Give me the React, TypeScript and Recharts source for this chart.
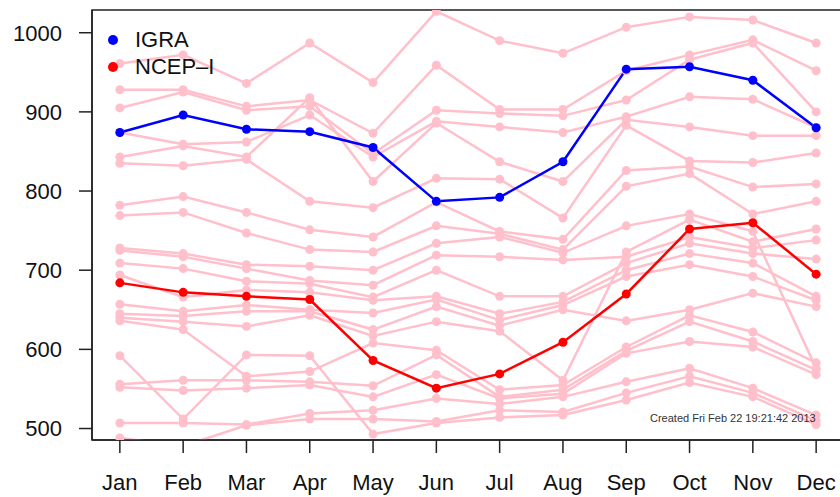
import React from 'react';
import { LineChart, Line, XAxis, YAxis, ReferenceArea } from 'recharts';

const MONTHS = ['Jan', 'Feb', 'Mar', 'Apr', 'May', 'Jun', 'Jul', 'Aug', 'Sep', 'Oct', 'Nov', 'Dec'];
const Y_TICKS = [500, 600, 700, 800, 900, 1000];

const IGRA = [874, 896, 878, 875, 855, 787, 792, 837, 954, 957, 940, 880];
const NCEP_I = [684, 672, 667, 663, 586, 551, 569, 609, 670, 752, 760, 695];

const ST00 = [961, 972, 936, 987, 937, 1027, 990, 974, 1007, 1020, 1016, 987];
const ST01 = [928, 928, 907, 915, 873, 959, 903, 903, 952, 972, 991, 952];
const ST02 = [905, 925, 902, 907, 847, 902, 898, 895, 915, 966, 987, 900];
const ST03 = [874, 859, 862, 896, 843, 888, 881, 874, 894, 919, 916, 880];
const ST04 = [843, 857, 843, 918, 812, 886, 837, 812, 890, 881, 870, 870];
const ST05 = [835, 832, 840, 787, 779, 816, 815, 766, 883, 838, 836, 848];
const ST06 = [782, 793, 773, 751, 742, 786, 749, 739, 826, 831, 805, 809];
const ST07 = [769, 773, 747, 726, 723, 756, 746, 726, 806, 822, 771, 787];
const ST08 = [728, 721, 707, 705, 700, 734, 742, 722, 756, 771, 749, 576];
const ST09 = [725, 717, 702, 687, 681, 719, 717, 713, 717, 742, 728, 738];
const ST10 = [709, 702, 686, 683, 666, 700, 667, 667, 709, 734, 721, 714];
const ST11 = [694, 666, 675, 672, 662, 667, 645, 660, 700, 721, 709, 667];
const ST12 = [657, 648, 656, 650, 646, 663, 637, 656, 692, 707, 692, 662];
const ST13 = [645, 642, 648, 648, 625, 654, 630, 650, 636, 650, 671, 654];
const ST14 = [640, 635, 629, 643, 617, 635, 623, 561, 723, 764, 736, 752];
const ST15 = [636, 625, 566, 572, 608, 599, 549, 555, 603, 643, 622, 583];
const ST16 = [592, 512, 593, 592, 493, 507, 514, 517, 536, 558, 540, 505];
const ST17 = [556, 561, 561, 559, 554, 593, 540, 549, 598, 635, 610, 574];
const ST18 = [552, 548, 551, 555, 540, 568, 538, 544, 595, 610, 603, 568];
const ST19 = [507, 507, 505, 519, 523, 538, 531, 540, 559, 576, 551, 517];
const ST20 = [488, 478, 504, 512, 512, 509, 523, 521, 545, 566, 545, 510];

const STATIONS = [ST00, ST01, ST02, ST03, ST04, ST05, ST06, ST07, ST08, ST09, ST10,
  ST11, ST12, ST13, ST14, ST15, ST16, ST17, ST18, ST19, ST20];

const CREATED_NOTE = 'Created Fri Feb 22 19:21:42 2013';

const X_DOMAIN: [number, number] = [0.56, 12.44];
const Y_DOMAIN: [number, number] = [485.5, 1028.7];

const data = MONTHS.map((name, i) => {
  const row: Record<string, number | string> = { m: i + 1, name, igra: IGRA[i], ncep: NCEP_I[i] };
  STATIONS.forEach((s, k) => {
    row['s' + k] = s[i];
  });
  return row;
});

const FONT = '"Liberation Sans", Arial, Helvetica, sans-serif';
const PINK = '#FFC0CB';

export default function App() {
  return (
    <div style={{ position: 'relative', width: 840, height: 497, overflow: 'hidden', background: '#fff' }}>
      <style>{`html,body{margin:0;padding:0;overflow:hidden;background:#fff}`}</style>
      <LineChart
        width={840}
        height={497}
        data={data}
        margin={{ top: 10, right: -4, bottom: 0, left: 0 }}
      >
        <XAxis
          dataKey="m"
          type="number"
          domain={X_DOMAIN}
          ticks={[1, 2, 3, 4, 5, 6, 7, 8, 9, 10, 11, 12]}
          tickFormatter={(v: number) => MONTHS[v - 1]}
          allowDataOverflow
          interval={0}
          height={57}
          tickSize={13}
          tickMargin={21}
          axisLine={{ stroke: '#222', strokeWidth: 1.5 }}
          tickLine={{ stroke: '#222', strokeWidth: 1.5 }}
          tick={{ fill: '#111', fontSize: 22, fontFamily: FONT }}
        />
        <YAxis
          type="number"
          domain={Y_DOMAIN}
          ticks={Y_TICKS}
          allowDataOverflow
          width={92}
          tickSize={13}
          tickMargin={17}
          axisLine={{ stroke: '#222', strokeWidth: 1.5 }}
          tickLine={{ stroke: '#222', strokeWidth: 1.5 }}
          tick={{ fill: '#111', fontSize: 22, fontFamily: FONT }}
        />
        <ReferenceArea
          x1={X_DOMAIN[0]}
          x2={X_DOMAIN[1]}
          y1={Y_DOMAIN[0]}
          y2={Y_DOMAIN[1]}
          fill="none"
          fillOpacity={0}
          stroke="#222"
          strokeWidth={1.5}
          ifOverflow="visible"
        />
        {STATIONS.map((_, k) => (
          <Line
            key={'s' + k}
            dataKey={'s' + k}
            stroke={PINK}
            strokeWidth={2.5}
            dot={{ r: 4.5, fill: PINK, stroke: 'none' }}
            activeDot={false}
            isAnimationActive={false}
            legendType="none"
          />
        ))}
        <Line
          dataKey="igra"
          stroke="#0000FF"
          strokeWidth={2.5}
          dot={{ r: 4.5, fill: '#0000FF', stroke: 'none' }}
          activeDot={false}
          isAnimationActive={false}
        />
        <Line
          dataKey="ncep"
          stroke="#FF0000"
          strokeWidth={2.5}
          dot={{ r: 4.5, fill: '#FF0000', stroke: 'none' }}
          activeDot={false}
          isAnimationActive={false}
        />
      </LineChart>
      <div style={{ position: 'absolute', left: 0, top: 0, fontFamily: FONT, fontSize: 22, color: '#111' }}>
        <div style={{ position: 'absolute', left: 108, top: 35, width: 10, height: 10, borderRadius: 5, background: '#0000FF' }} />
        <div style={{ position: 'absolute', left: 135, top: 27, lineHeight: '26px', whiteSpace: 'nowrap' }}>IGRA</div>
        <div style={{ position: 'absolute', left: 108, top: 62, width: 10, height: 10, borderRadius: 5, background: '#FF0000' }} />
        <div style={{ position: 'absolute', left: 135, top: 54, lineHeight: '26px', whiteSpace: 'nowrap' }}>NCEP–I</div>
      </div>
      <div style={{ position: 'absolute', left: 650, top: 411, fontFamily: FONT, fontSize: 11, lineHeight: '14px', color: '#333', whiteSpace: 'nowrap' }}>
        {CREATED_NOTE}
      </div>
    </div>
  );
}
